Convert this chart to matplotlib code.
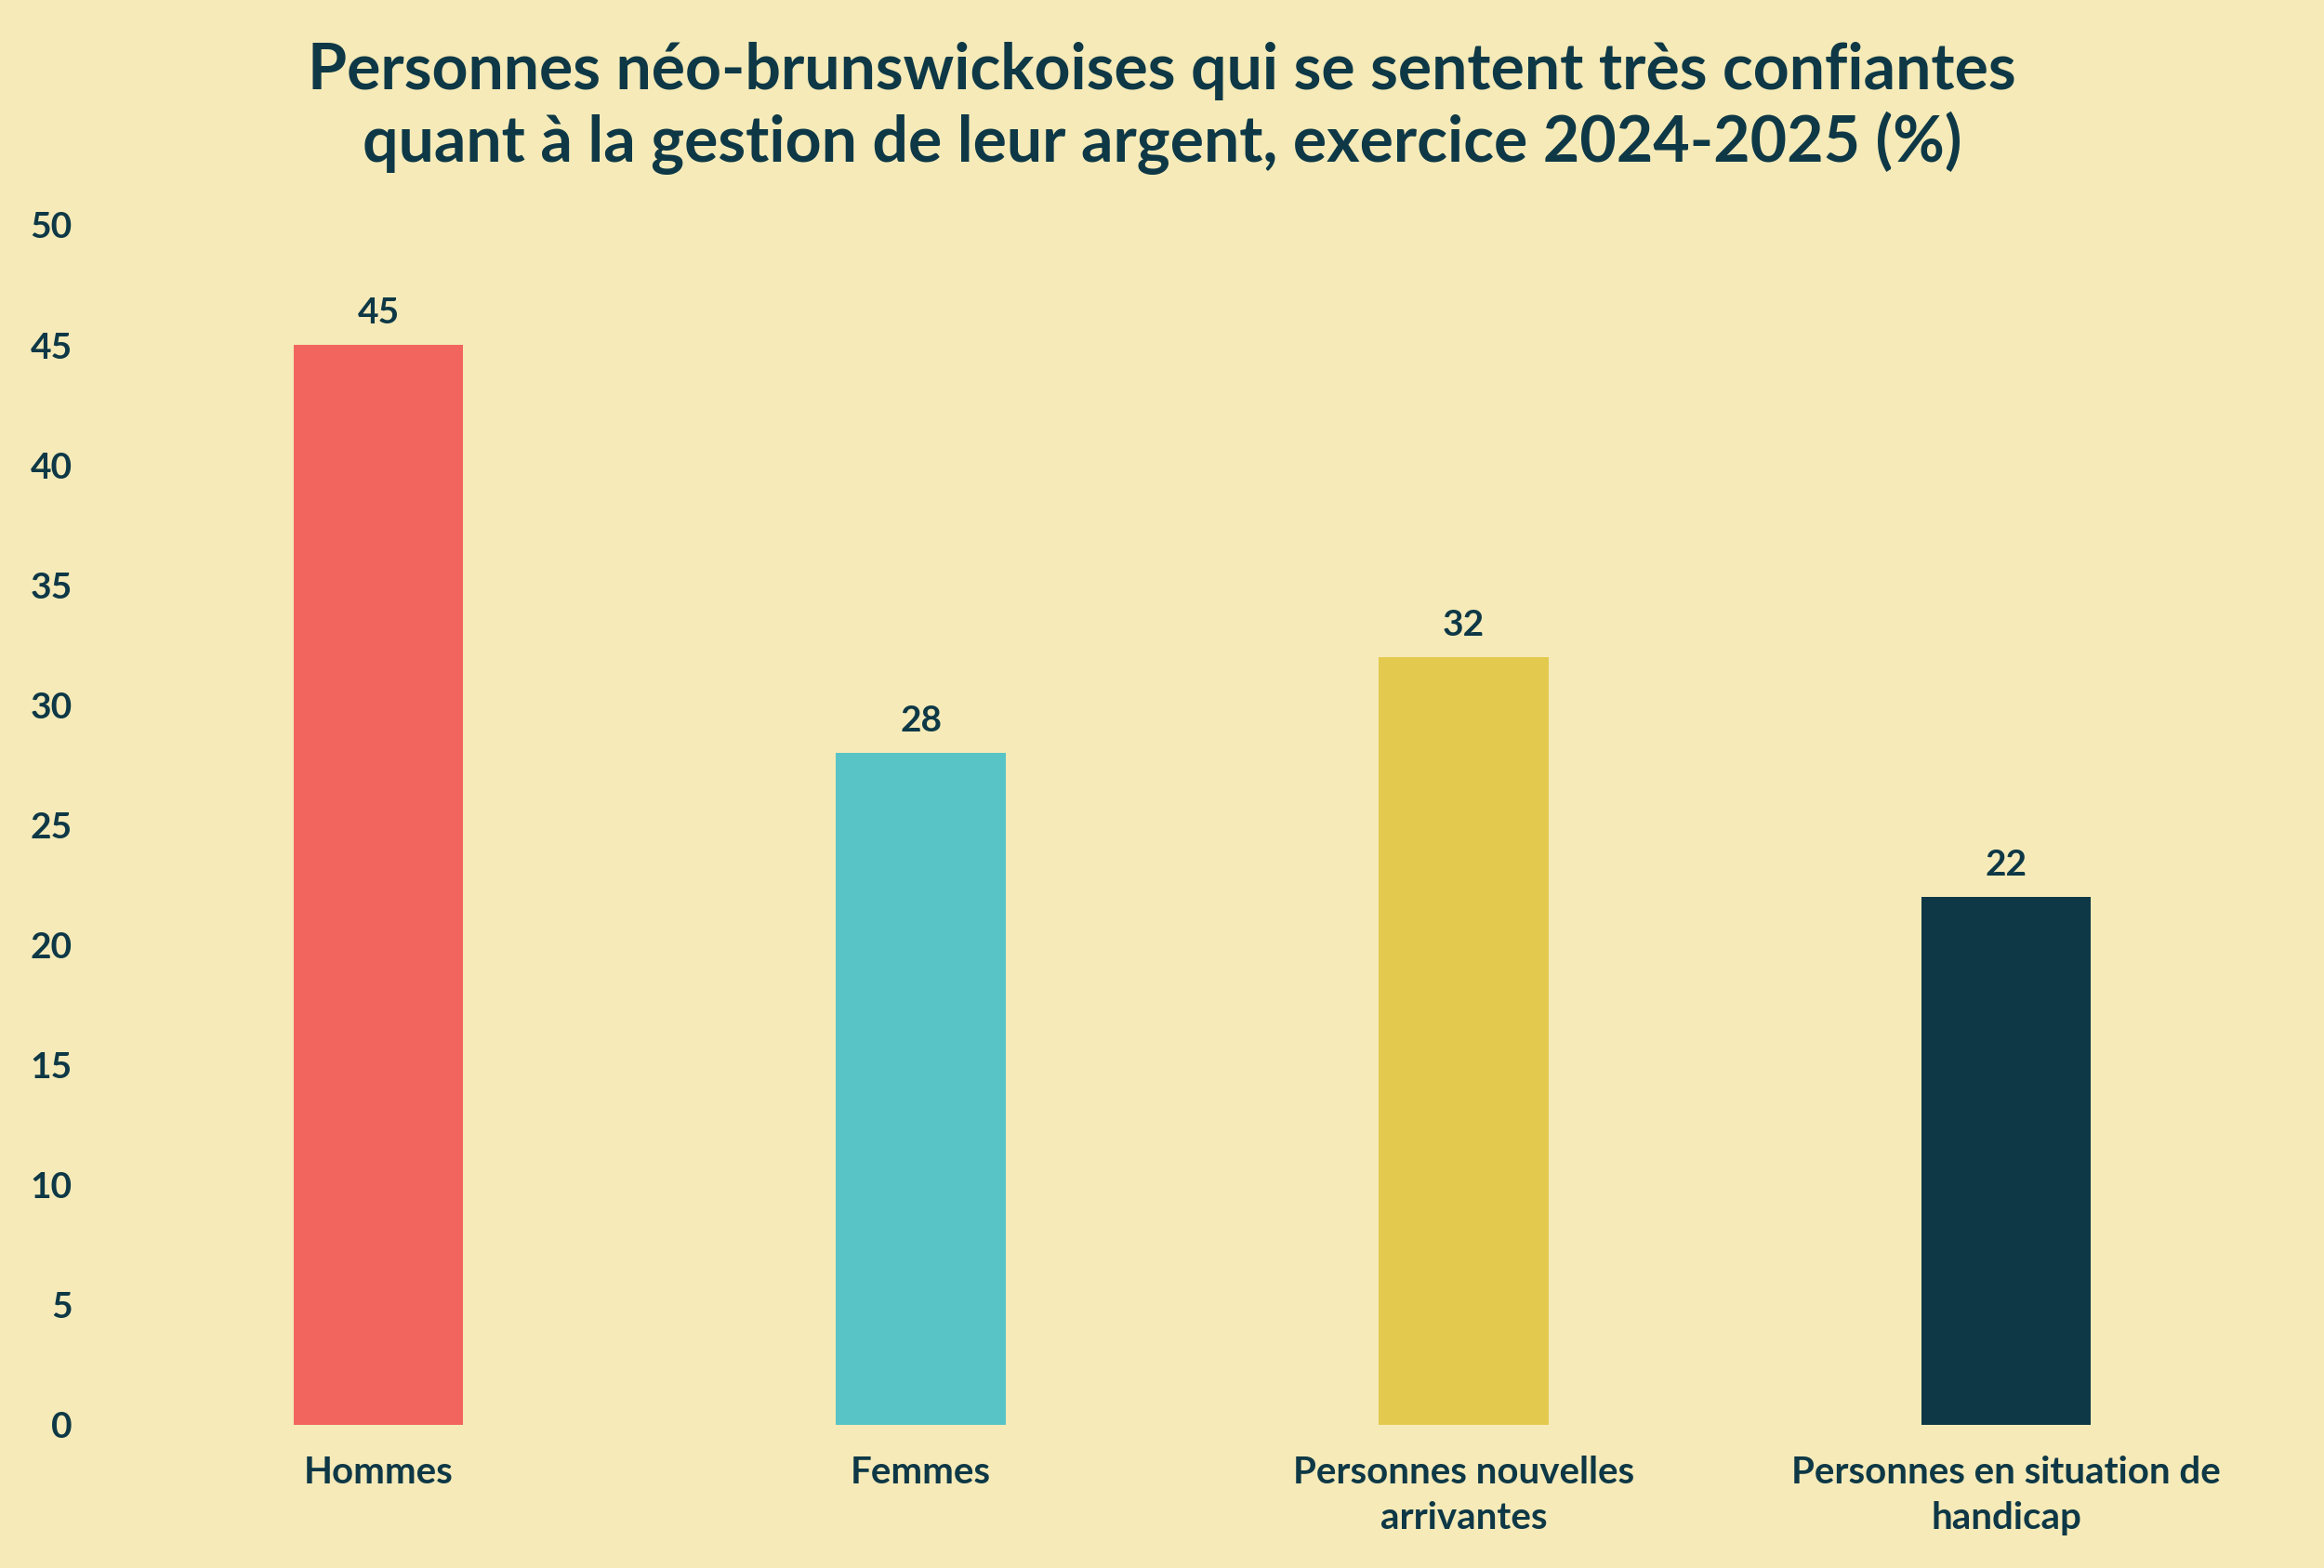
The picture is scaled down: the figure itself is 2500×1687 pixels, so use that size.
import matplotlib
matplotlib.use('Agg')
import matplotlib.pyplot as plt

# Data
categories = ['Hommes', 'Femmes', 'Personnes nouvelles\narrivantes', 'Personnes en situation de\nhandicap']
values = [45, 28, 32, 22]
bar_colors = ['#F2655F', '#58C4C6', '#E3CA4E', '#0E3846']
yticks = [0, 5, 10, 15, 20, 25, 30, 35, 40, 45, 50]

bg = '#F5EAB8'
ink = '#0E3846'

plt.rcParams['font.family'] = ['Lato', 'DejaVu Sans']
W = 'bold'

fig = plt.figure(figsize=(25, 16.87), dpi=100, facecolor=bg)
ax = fig.add_axes([0.046, 0.0913, 0.934, 0.7653], facecolor=bg)

x = range(len(categories))
bars = ax.bar(x, values, width=0.313, color=bar_colors)

for xi, v in zip(x, values):
    ax.annotate(str(v), (xi, v), xytext=(0, 12), textcoords='offset points',
                ha='center', va='bottom', fontsize=28, fontweight=W, color=ink)

ax.set_xlim(-0.5, len(categories) - 0.5)
ax.set_ylim(0, 50)
ax.set_yticks(yticks)
ax.set_xticks(list(x))
ax.set_xticklabels(categories, fontsize=29, fontweight=W, color=ink, linespacing=1.4)
ax.set_yticklabels([str(t) for t in yticks], fontsize=28, fontweight=W, color=ink)
ax.tick_params(axis='both', length=0)
ax.tick_params(axis='y', pad=27)
ax.tick_params(axis='x', pad=24)
for s in ax.spines.values():
    s.set_visible(False)

fig.text(0.5, 0.931, "Personnes néo-brunswickoises qui se sentent très confiantes\n"
         "quant à la gestion de leur argent, exercice 2024-2025 (%)",
         ha='center', va='center', fontsize=49, fontweight=W, color=ink, linespacing=1.22)

fig.savefig('out.png', dpi=100, facecolor=bg)
